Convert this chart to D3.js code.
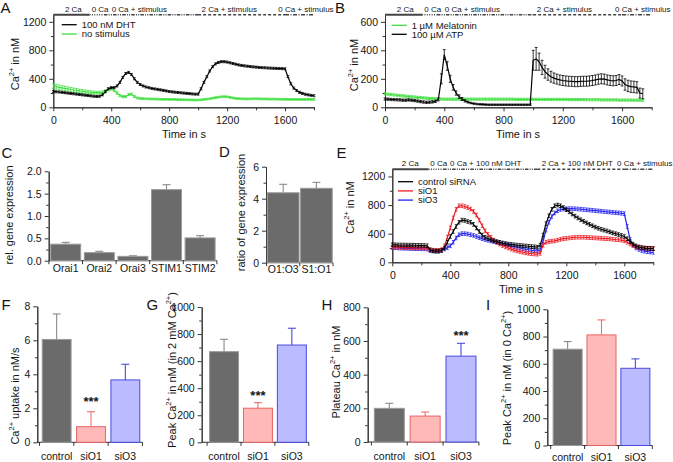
<!DOCTYPE html>
<html><head><meta charset="utf-8">
<script src="https://cdn.jsdelivr.net/npm/d3@7"></script>
<style>body{margin:0;background:#fff}svg{display:block;font-family:"Liberation Sans",Arial,sans-serif}</style>
</head><body><svg id="c" width="673" height="462"></svg>
<script>
// ---------- DATA ----------
const time = [0,20,40,60,80,100,120,140,160,180,
200,220,240,260,280,300,320,340,360,380,
400,420,440,460,480,500,520,540,560,580,
600,620,640,660,680,700,720,740,760,780,
800,820,840,860,880,900,920,940,960,980,
1000,1020,1040,1060,1080,1100,1120,1140,1160,1180,
1200,1220,1240,1260,1280,1300,1320,1340,1360,1380,
1400,1420,1440,1460,1480,1500,1520,1540,1560,1580,
1600,1620,1640,1660,1680,1700,1720,1740,1760,1780,
1800];
const timeB = time.slice(0, 88); // panel B traces end at 1740 s

// Panel A
const aDHT = [220,218,215,210,205,200,195,190,185,180,
175,170,165,160,155,152,155,175,220,260,
275,275,300,350,420,475,490,460,400,350,
320,300,285,275,265,258,252,245,238,230,
222,217,212,208,204,200,196,192,188,185,
185,260,350,430,510,570,610,630,640,640,
635,625,615,605,595,588,582,577,572,568,
564,560,557,555,552,550,548,546,545,543,
540,430,330,270,235,210,195,183,175,168,
163];
const aDHTerr = 14;
const aNoStim = [300,290,280,272,265,258,250,243,237,230,
225,220,215,210,207,205,205,210,225,250,
262,240,200,165,150,150,180,185,150,130,
125,122,120,118,117,115,114,113,112,112,
111,110,110,108,107,106,105,104,103,102,
102,105,110,115,120,128,135,142,148,150,
148,140,132,125,122,120,118,118,118,120,
120,119,118,117,116,115,115,114,113,112,
112,111,110,110,110,110,110,110,110,110,
110];
const aNoStimErr = [35,34,33,32,31,30,29,28,27,26,
25,24,23,22,21,20,20,20,20,20,
20,20,18,16,15,15,15,15,14,13,
12,12,12,12,12,12,12,12,12,12,
12,12,12,12,12,12,12,12,12,12,
12,12,12,12,12,12,12,12,12,12,
12,12,12,12,12,12,12,12,12,12,
12,12,12,12,12,12,12,12,12,12,
12,12,12,12,12,12,12,12,12,12,
12];

// Panel B
const bATP = [58,57,55,54,53,52,50,50,52,50,
47,44,40,37,35,36,38,42,55,200,
370,290,200,140,100,75,58,45,36,30,
26,23,21,20,19,18,18,18,18,18,
18,18,18,18,18,18,18,18,18,18,
330,340,320,280,250,230,215,205,198,192,
188,185,183,182,180,180,182,183,183,185,
188,192,197,200,198,192,188,186,188,195,
185,160,150,145,143,140,100,95];
const bATPerr = [8,8,8,8,8,8,8,8,8,8,
8,8,8,8,8,8,8,8,10,35,
35,30,25,20,15,12,10,8,6,5,
5,5,5,5,5,5,5,5,5,5,
5,5,5,5,5,5,5,5,5,5,
70,80,60,50,45,40,38,36,35,35,
35,35,35,35,35,35,35,35,35,35,
35,35,35,35,35,35,35,35,35,35,
35,40,40,40,40,40,35,35];
const bMel = [95,92,90,87,85,82,80,78,76,74,
72,70,68,66,64,62,61,60,59,58,
57,57,57,57,57,57,57,57,57,57,
57,57,57,57,57,57,57,57,57,57,
57,57,57,57,56,56,56,56,56,56,
56,56,56,55,55,55,55,55,55,55,
55,55,54,54,54,54,54,54,53,53,
53,53,53,52,52,52,52,52,52,51,
51,51,51,51,50,50,50,50];
const bMelErr = 8;

// Panel E
const eCtrl = [245,245,243,242,242,240,240,240,238,237,
236,235,232,175,160,155,155,165,200,280,
360,430,500,560,590,585,570,560,530,480,
430,380,350,330,315,300,290,280,270,262,
255,250,245,240,236,232,228,224,220,216,
212,240,380,540,650,740,790,800,790,765,
735,705,675,645,620,595,572,550,530,510,
492,476,462,450,438,425,412,400,388,375,
360,330,290,255,230,215,205,198,195,192,
190];
const eSiO1 = [215,212,210,208,206,205,205,204,203,202,
201,200,198,175,170,168,168,175,230,350,
480,620,740,790,790,780,765,745,710,660,
590,510,440,390,350,310,280,255,235,215,
200,185,170,160,150,140,132,125,120,116,
113,125,240,280,290,295,300,310,320,330,
335,340,345,348,350,350,350,348,345,343,
340,338,335,332,330,327,322,318,315,310,
300,280,255,235,220,210,205,200,198,196,
195];
const eSiO3 = [205,203,200,198,196,195,193,192,190,190,
188,187,185,165,160,158,160,170,185,205,
230,280,340,385,400,400,395,385,375,360,
345,330,318,308,298,290,280,270,260,250,
240,230,220,210,200,190,182,175,168,162,
158,170,300,450,560,640,690,720,738,745,
748,750,750,748,745,742,738,734,730,726,
722,718,714,710,706,702,698,694,690,686,
680,500,320,240,200,180,165,155,148,143,
140];
const eErr = [25, 25, 25];

// Protocol annotation
const protoStart = [0, 250, 350, 1000, 1600];
const protoEnd = [250, 350, 1000, 1600, 1800];
const protoLabelsAB = ["2 Ca", "0 Ca", "0 Ca + stimulus", "2 Ca + stimulus", "0 Ca + stimulus"];
const protoLabelsE = ["2 Ca", "0 Ca", "0 Ca + 100 nM DHT", "2 Ca + 100 nM DHT", "0 Ca + stimulus"];
const protoLabelTimesAB = [80, 265, 403, 1024, 1553];
const protoLabelTimesE = [65, 262, 398, 1030, 1550];

const timeTicks = [0, 400, 800, 1200, 1600];
const timeMinor = [200, 600, 1000, 1400, 1800];

// Panel C / D
const genes = ["Orai1", "Orai2", "Orai3", "STIM1", "STIM2"];
const geneExpr = [0.37, 0.18, 0.097, 1.59, 0.51];
const geneExprErr = [0.04, 0.03, 0.013, 0.11, 0.05];
const ratios = ["O1:O3", "S1:O1"];
const ratioVals = [4.37, 4.65];
const ratioErr = [0.53, 0.37];

// Panels F–I
const groups = ["control", "siO1", "siO3"];
const uptake = [6.05, 0.92, 3.67];
const uptakeErr = [1.5, 0.88, 0.92];
const peak2 = [670, 252, 719];
const peak2Err = [91, 41, 124];
const plateau = [200, 154, 510];
const plateauErr = [30, 24, 76];
const peak0 = [707, 812, 567];
const peak0Err = [56, 110, 69];

// ---------- DRAWING ----------
const svg = d3.select("#c");
const AX = "#333";
const TXT = "#151515";
const GREEN = "#3fdf3f";
const intFmt = d3.format("d");

function addText(parent, x, y, parts, o = {}) {
  const size = o.size || 10.5;
  const t = parent.append("text").attr("font-size", size)
    .attr("text-anchor", o.anchor || "start").attr("fill", o.fill || TXT);
  if (o.weight) t.attr("font-weight", o.weight);
  if (o.rotate) t.attr("transform", `translate(${x},${y}) rotate(-90)`);
  else t.attr("x", x).attr("y", y);
  let inSup = false;
  parts.forEach(p => {
    const sup = Array.isArray(p);
    const ts = t.append("tspan").text(sup ? p[0] : p);
    if (sup) { ts.attr("font-size", size * 0.68).attr("dy", -size * 0.45); inSup = true; }
    else { if (inSup) ts.attr("dy", size * 0.45); inSup = false; }
  });
  return t;
}

function styleAxis(sel) {
  sel.selectAll("path.domain").attr("stroke", AX);
  sel.selectAll(".tick line").attr("stroke", AX);
  sel.selectAll("text").attr("fill", TXT).attr("font-size", 10.5)
    .attr("font-family", '"Liberation Sans",Arial,sans-serif');
}

function errPath(xs, ys, es, x, y, cap) {
  let d = "";
  xs.forEach((t, i) => {
    const e = Array.isArray(es) ? es[i] : es;
    const px = x(t), y1 = y(ys[i] + e), y2 = y(Math.max(0, ys[i] - e));
    d += `M${px},${y1}V${y2}M${px - cap},${y1}H${px + cap}M${px - cap},${y2}H${px + cap}`;
  });
  return d;
}

function timePanel(c) {
  const g = svg.append("g");
  const x = d3.scaleLinear().domain([0, 1800]).range(c.xr);
  const y = d3.scaleLinear().domain([0, c.ymax]).range(c.yr);
  const xa = g.append("g").attr("transform", `translate(0,${c.yr[0]})`)
    .call(d3.axisBottom(x).tickValues(timeTicks).tickSize(4).tickSizeOuter(0).tickPadding(5).tickFormat(intFmt));
  styleAxis(xa);
  const xm = g.append("g").attr("transform", `translate(0,${c.yr[0]})`)
    .call(d3.axisBottom(x).tickValues(timeMinor).tickSize(3).tickSizeOuter(0).tickFormat(""));
  styleAxis(xm);
  const ya = g.append("g").attr("transform", `translate(${c.xr[0]},0)`)
    .call(d3.axisLeft(y).tickValues(c.yticks).tickSize(4).tickSizeOuter(0).tickPadding(3).tickFormat(intFmt));
  styleAxis(ya);
  const ym = g.append("g").attr("transform", `translate(${c.xr[0]},0)`)
    .call(d3.axisLeft(y).tickValues(c.yminor).tickSize(2.5).tickSizeOuter(0).tickFormat(""));
  styleAxis(ym);

  // protocol bar
  const dashes = [null, "1,1.4", "3.5,1.2,1,1.2,1,1.2", "3,2", "4,1.5,1,1.5"];
  const py = c.yr[1];
  protoStart.forEach((s, i) => {
    g.append("line").attr("x1", x(s)).attr("x2", x(protoEnd[i])).attr("y1", py).attr("y2", py)
      .attr("stroke", "#444").attr("stroke-width", i === 0 ? 2 : 1.6)
      .attr("stroke-dasharray", dashes[i]);
  });
  c.labels.forEach((l, i) => {
    addText(g, x(c.labelTimes[i]), py - 3, [l], { size: 8 });
  });

  // series
  c.series.forEach(s => {
    const ts = s.time || time;
    g.append("path").attr("d", errPath(ts, s.values, s.err, x, y, 1.4))
      .attr("fill", "none").attr("stroke", s.color).attr("stroke-width", 0.8);
    g.append("path").datum(s.values)
      .attr("d", d3.line().x((d, i) => x(ts[i])).y(d => y(d)))
      .attr("fill", "none").attr("stroke", s.color).attr("stroke-width", 1.2);
  });

  // legend
  c.series.slice().sort((a, b) => a.legendRow - b.legendRow).forEach((s, i) => {
    const ly = c.legend[1] + i * c.legendGap;
    g.append("line").attr("x1", c.legend[0]).attr("x2", c.legend[0] + 15)
      .attr("y1", ly).attr("y2", ly).attr("stroke", s.color).attr("stroke-width", 1.3);
    addText(g, c.legend[0] + 20, ly + 3.2, [s.name], { size: 9.5 });
  });

  addText(g, c.ytitle[0], c.ytitle[1], ["Ca", ["2+"], " in nM"], { rotate: true, anchor: "middle", size: 11 });
  addText(g, c.xtitle[0], c.xtitle[1], ["Time in s"], { anchor: "middle", size: 11 });
  addText(g, c.letter[0], c.letter[1], [c.letter[2]], { size: 15 });
}

timePanel({
  xr: [53.3, 314], yr: [107.3, 14.7], ymax: 1300,
  yticks: [0, 400, 800, 1200], yminor: [200, 600, 1000],
  labels: protoLabelsAB, labelTimes: protoLabelTimesAB,
  series: [
    { name: "no stimulus", values: aNoStim, err: aNoStimErr, color: GREEN, legendRow: 1 },
    { name: "100 nM DHT", values: aDHT, err: aDHTerr, color: "#000", legendRow: 0 }
  ],
  legend: [61.7, 24.7], legendGap: 9.3,
  ytitle: [18.5, 64], xtitle: [184, 138], letter: [0.5, 12.5, "A"]
});

timePanel({
  xr: [385, 651.7], yr: [107.3, 14.7], ymax: 650,
  yticks: [0, 200, 400, 600], yminor: [100, 300, 500],
  labels: protoLabelsAB, labelTimes: protoLabelTimesAB,
  series: [
    { name: "1 µM Melatonin", values: bMel, err: bMelErr, color: GREEN, time: timeB, legendRow: 0 },
    { name: "100 µM ATP", values: bATP, err: bATPerr, color: "#000", time: timeB, legendRow: 1 }
  ],
  legend: [391.7, 25.3], legendGap: 9,
  ytitle: [357.5, 65], xtitle: [518, 138], letter: [335, 13, "B"]
});

timePanel({
  xr: [392.3, 653.3], yr: [262.3, 169.3], ymax: 1300,
  yticks: [0, 400, 800, 1200], yminor: [200, 600, 1000],
  labels: protoLabelsE, labelTimes: protoLabelTimesE,
  series: [
    { name: "siO3", values: eSiO3, err: eErr[2], color: "#2424ee", legendRow: 2 },
    { name: "siO1", values: eSiO1, err: eErr[1], color: "#ee1c24", legendRow: 1 },
    { name: "control siRNA", values: eCtrl, err: eErr[0], color: "#000", legendRow: 0 }
  ],
  legend: [398, 181.7], legendGap: 9.2,
  ytitle: [353.5, 207.5], xtitle: [521, 293], letter: [336.5, 158, "E"]
});

// ---------- bar panels ----------
const GRAY = { fill: "#6b6b6b", stroke: "#9a9a9a", err: "#8a8a8a" };
const RED = { fill: "#ffb9b9", stroke: "#e86464", err: "#ee7070" };
const BLUE = { fill: "#bbbbff", stroke: "#4a4ae0", err: "#4a4ae0" };

function barPanel(c) {
  const g = svg.append("g");
  const n = c.cats.length;
  const x = d3.scaleBand().domain(c.cats).range(c.xr).paddingInner(c.pad).paddingOuter(c.pad / 2);
  const y = d3.scaleLinear().domain([0, c.ymax]).range(c.yr);
  const ya = g.append("g").attr("transform", `translate(${c.axisX},0)`)
    .call(d3.axisLeft(y).tickValues(c.yticks).tickSize(4).tickSizeOuter(0).tickPadding(3)
      .tickFormat(c.fmt || intFmt));
  styleAxis(ya);
  const ym = g.append("g").attr("transform", `translate(${c.axisX},0)`)
    .call(d3.axisLeft(y).tickValues(c.yminor).tickSize(2.5).tickSizeOuter(0).tickFormat(""));
  styleAxis(ym);
  const step = x.step();
  g.append("line").attr("x1", c.axisX).attr("x2", c.xr[1]).attr("y1", c.yr[0]).attr("y2", c.yr[0]).attr("stroke", AX);
  d3.range(n + 1).forEach(i => {
    const tx = c.xr[0] + i * step;
    g.append("line").attr("x1", tx).attr("x2", tx).attr("y1", c.yr[0]).attr("y2", c.yr[0] + 3.5).attr("stroke", AX);
  });
  c.cats.forEach((cat, i) => {
    const st = c.styles[i];
    const x0 = x(cat), bw = x.bandwidth(), top = y(c.vals[i]), et = y(c.vals[i] + c.errs[i]);
    const cx = x0 + bw / 2;
    g.append("line").attr("x1", cx).attr("x2", cx).attr("y1", top).attr("y2", et).attr("stroke", st.err).attr("stroke-width", 1.1);
    g.append("line").attr("x1", cx - 4).attr("x2", cx + 4).attr("y1", et).attr("y2", et).attr("stroke", st.err).attr("stroke-width", 1.1);
    g.append("rect").attr("x", x0).attr("y", top).attr("width", bw).attr("height", c.yr[0] - top)
      .attr("fill", st.fill).attr("stroke", st.stroke).attr("stroke-width", 1);
    addText(g, cx, c.labelY, [cat], { anchor: "middle", size: 10.5 });
  });
  if (c.stars) {
    addText(g, x(c.stars[0]) + x.bandwidth() / 2, c.stars[1], ["***"], { anchor: "middle", size: 13, weight: "bold" });
  }
  addText(g, c.ytitle[0], c.ytitle[1], c.ytitleParts, { rotate: true, anchor: "middle", size: 11 });
  addText(g, c.letter[0], c.letter[1], [c.letter[2]], { size: 15 });
}

barPanel({
  cats: genes, vals: geneExpr, errs: geneExprErr, styles: genes.map(() => GRAY),
  xr: [48.9, 216.9], pad: 0.107, axisX: 48.7, yr: [260.7, 171.3], ymax: 2,
  yticks: [0, 0.5, 1, 1.5, 2], yminor: [0.25, 0.75, 1.25, 1.75], fmt: d3.format(".1f"),
  labelY: 271.5, ytitle: [13, 215], ytitleParts: ["rel. gene expression"], letter: [1.5, 158, "C"]
});
barPanel({
  cats: ratios, vals: ratioVals, errs: ratioErr, styles: ratios.map(() => GRAY),
  xr: [266.6, 333], pad: 0.045, axisX: 266, yr: [262.7, 166.7], ymax: 6,
  yticks: [0, 2, 4, 6], yminor: [1, 3, 5],
  labelY: 272.5, ytitle: [244.5, 212.5], ytitleParts: ["ratio of gene expression"], letter: [219, 156.7, "D"]
});
const grpStyles = [GRAY, RED, BLUE];
barPanel({
  cats: groups, vals: uptake, errs: uptakeErr, styles: grpStyles,
  xr: [39.5, 142.5], pad: 0.16, axisX: 37.3, yr: [442.3, 306.3], ymax: 8,
  yticks: [0, 2, 4, 6, 8], yminor: [1, 3, 5, 7],
  labelY: 460, stars: ["siO1", 406],
  ytitle: [19, 396], ytitleParts: ["Ca", ["2+"], " uptake in nM/s"], letter: [1.5, 310, "F"]
});
barPanel({
  cats: groups, vals: peak2, errs: peak2Err, styles: grpStyles,
  xr: [207.1, 308.8], pad: 0.145, axisX: 201.7, yr: [442.3, 307], ymax: 1000,
  yticks: [0, 200, 400, 600, 800, 1000], yminor: [100, 300, 500, 700, 900],
  labelY: 459.5, stars: ["siO1", 399.5],
  ytitle: [176, 370], ytitleParts: ["Peak Ca", ["2+"], " in nM (in 2 mM Ca", ["2+"], ")"], letter: [146.5, 310, "G"]
});
barPanel({
  cats: groups, vals: plateau, errs: plateauErr, styles: grpStyles,
  xr: [371.4, 478.9], pad: 0.163, axisX: 367.7, yr: [442, 307.3], ymax: 800,
  yticks: [0, 200, 400, 600, 800], yminor: [100, 300, 500, 700],
  labelY: 460, stars: ["siO3", 339.5],
  ytitle: [339.5, 372], ytitleParts: ["Plateau Ca", ["2+"], " in nM"], letter: [321.5, 310, "H"]
});
barPanel({
  cats: groups, vals: peak0, errs: peak0Err, styles: grpStyles,
  xr: [550.7, 652.3], pad: 0.143, axisX: 547.3, yr: [445.5, 309.3], ymax: 1000,
  yticks: [0, 200, 400, 600, 800, 1000], yminor: [100, 300, 500, 700, 900],
  labelY: 461, ytitle: [511, 378], ytitleParts: ["Peak Ca", ["2+"], " in nM (in 0 Ca", ["2+"], ")"], letter: [486, 310, "I"]
});
</script>
</body></html>
